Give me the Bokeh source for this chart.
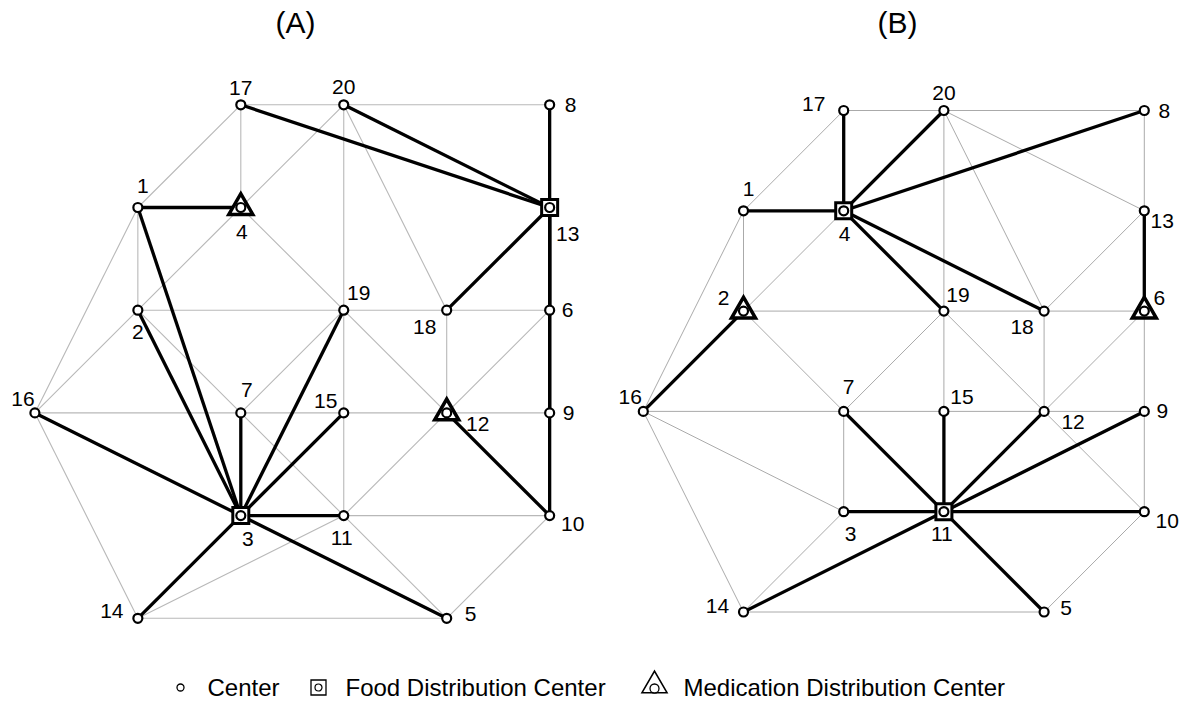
from bokeh.plotting import figure
from bokeh.models import Range1d, ColumnDataSource
from bokeh.embed import file_html
from bokeh.resources import INLINE
from bokeh.core.properties import value

# ---------------- data ----------------
node_ids = list(range(1, 21))
node_col = [1, 1, 2, 2, 4, 5, 2, 5, 5, 5, 3, 4, 5, 1, 3, 0, 2, 4, 3, 3]
node_row = [1, 2, 4, 1, 5, 2, 3, 0, 3, 4, 4, 3, 1, 5, 3, 3, 0, 2, 2, 0]

# base road network (grey)
edge_from = [17, 20, 17, 17, 20, 20, 20, 20, 8, 1, 1, 1, 4, 4, 13, 13, 2, 19, 18, 2,
             2, 7, 19, 19, 18, 6, 6, 16, 7, 15, 12, 16, 16, 7, 7, 15, 12, 12, 9, 3,
             11, 3, 14, 11, 10, 14]
edge_to = [20, 8, 1, 4, 4, 19, 18, 13, 13, 4, 2, 16, 2, 19, 18, 6, 19, 18, 6, 16,
           7, 19, 15, 12, 12, 12, 9, 7, 15, 12, 9, 3, 14, 3, 11, 11, 11, 10, 10, 11,
           10, 14, 11, 5, 5, 5]

# solution (A)
a_food = [3, 13]
a_med = [4, 12]
a_link_center = [13, 13, 13, 13, 13, 13, 13, 4, 12, 3, 3, 3, 3, 3, 3, 3, 3, 3]
a_link_node = [17, 20, 8, 18, 6, 9, 10, 1, 10, 1, 2, 16, 7, 19, 15, 11, 14, 5]

# solution (B)
b_food = [4, 11]
b_med = [2, 6]
b_link_center = [4, 4, 4, 4, 4, 4, 6, 2, 11, 11, 11, 11, 11, 11, 11, 11]
b_link_node = [17, 1, 20, 8, 19, 18, 13, 16, 7, 15, 12, 9, 3, 10, 14, 5]

panel_titles = ["(A)", "(B)"]
legend_labels = ["Center", "Food Distribution Center", "Medication Distribution Center"]

# ---------------- layout / style ----------------
W, H = 1182, 700
FONT = value("Liberation Sans")

# pixel calibration of each panel's grid (origin and spacing)
PANEL_GEOM = {
    "A": dict(x0=34.4, dx=102.95, y0=104.3, dy=102.7),
    "B": dict(x0=642.8, dx=100.2, y0=110.0, dy=100.3),
}

# label offsets (pixels, right / down) for each node label
A_OFF = {17: (0, -17), 20: (0, -18), 8: (21, 0), 1: (5, -22), 4: (1, 24), 13: (18, 26),
         19: (15, -17), 18: (-22, 17), 6: (18, 0), 2: (0, 22), 16: (-12, -14), 7: (6, -23),
         15: (-18, -12), 12: (31, 11), 9: (19, 0), 3: (7, 23), 11: (-2, 22), 10: (23, 8),
         14: (-26, -7), 5: (24, -4)}
B_OFF = {17: (-30, -7), 20: (0, -18), 8: (20, 0), 1: (5, -22), 4: (1, 23), 13: (18, 10),
         2: (-20, -13), 19: (14, -16), 18: (-22, 16), 6: (15, -13), 16: (-13, -14),
         7: (5, -24), 15: (18, -14), 12: (29, 11), 9: (18, 0), 3: (7, 22), 11: (-2, 22),
         10: (23, 9), 14: (-26, -6), 5: (22, -4)}

p = figure(width=W, height=H, output_backend="svg", toolbar_location=None,
           x_range=Range1d(0, W), y_range=Range1d(H, 0), min_border=0,
           x_axis_location=None, y_axis_location=None)
p.grid.visible = False
p.outline_line_color = None
p.background_fill_color = "white"
p.border_fill_color = "white"

for name, g in PANEL_GEOM.items():
    p.extra_x_ranges[name] = Range1d(-g["x0"] / g["dx"], (W - g["x0"]) / g["dx"])
    p.extra_y_ranges[name] = Range1d((H - g["y0"]) / g["dy"], -g["y0"] / g["dy"])

pos = {n: (c, r) for n, c, r in zip(node_ids, node_col, node_row)}


def seg_source(a, b):
    return ColumnDataSource(dict(
        x0=[pos[i][0] for i in a], y0=[pos[i][1] for i in a],
        x1=[pos[j][0] for j in b], y1=[pos[j][1] for j in b]))


def draw_panel(name, food, med, lc, ln, offs, gray, gw):
    kw = dict(x_range_name=name, y_range_name=name)
    p.segment("x0", "y0", "x1", "y1", source=seg_source(edge_from, edge_to),
              line_color=gray, line_width=gw, **kw)
    p.segment("x0", "y0", "x1", "y1", source=seg_source(lc, ln),
              line_color="black", line_width=3.3, **kw)
    p.scatter([pos[n][0] for n in food], [pos[n][1] for n in food], marker="square",
              size=16, fill_color="white", line_color="black", line_width=3,
              line_join="miter", **kw)
    p.scatter([pos[n][0] for n in med], [pos[n][1] for n in med], marker="triangle",
              size=24, fill_color="white", line_color="black", line_width=3.5,
              line_join="miter", **kw)
    p.scatter(node_col, node_row, marker="circle", size=9, fill_color="white",
              line_color="black", line_width=2.2, **kw)
    src = ColumnDataSource(dict(
        x=node_col, y=node_row, t=[str(n) for n in node_ids],
        dx=[offs[n][0] for n in node_ids], dy=[offs[n][1] for n in node_ids]))
    p.text("x", "y", text="t", x_offset="dx", y_offset="dy", source=src,
           text_align="center", text_baseline="middle", text_font=FONT,
           text_font_size="21px", text_color="black", **kw)


draw_panel("A", a_food, a_med, a_link_center, a_link_node, A_OFF, "#b8b8b8", 1.1)
draw_panel("B", b_food, b_med, b_link_center, b_link_node, B_OFF, "#a0a0a0", 0.9)

# panel titles (pixel frame)
p.text([295, 897], [22, 22], text=panel_titles, text_align="center",
       text_baseline="middle", text_font=FONT, text_font_size="30px", text_color="black")

# legend (pixel frame)
LY = 687
p.scatter([180], [LY], marker="circle", size=7, fill_color="white",
          line_color="black", line_width=1.3)
p.scatter([318], [LY], marker="square", size=15, fill_color="white",
          line_color="black", line_width=1.3, line_join="miter")
p.scatter([318], [LY], marker="circle", size=7, fill_color="white",
          line_color="black", line_width=1.2)
p.scatter([654], [LY - 2], marker="triangle", size=25, fill_color="white",
          line_color="black", line_width=1.6, line_join="miter")
p.scatter([654], [LY + 1], marker="circle", size=9, fill_color="white",
          line_color="black", line_width=1.3)
p.text([207, 345, 683], [LY, LY, LY], text=legend_labels, text_align="left",
       text_baseline="middle", text_font=FONT, text_font_size="24px",
       text_color="black")

open("out.html", "w").write(file_html(p, INLINE))
